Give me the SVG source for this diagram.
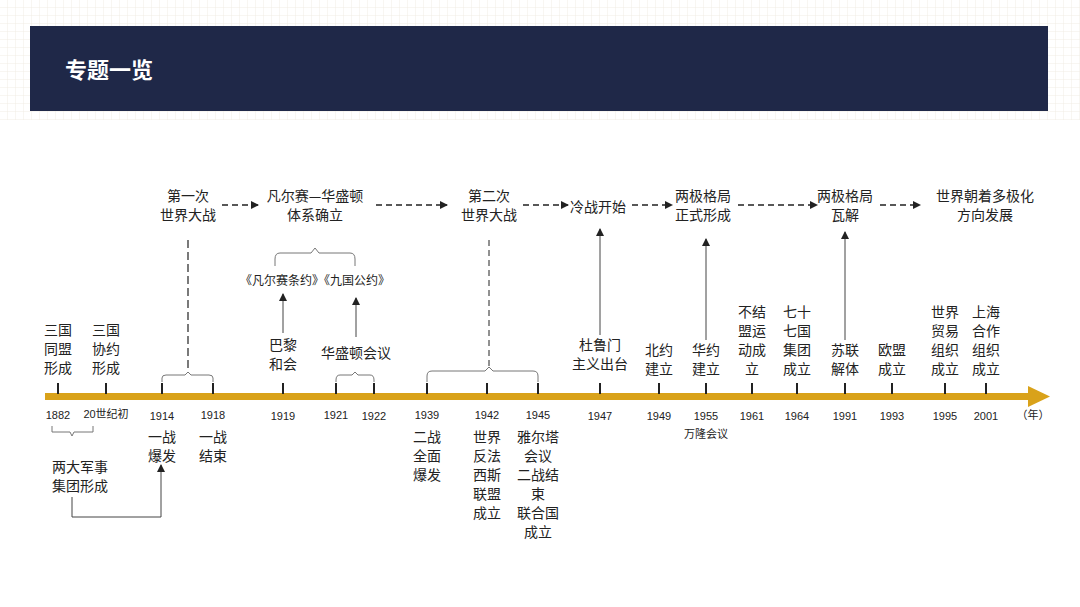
<svg xmlns="http://www.w3.org/2000/svg" width="1080" height="607" viewBox="0 0 1080 607">
<defs>
<marker id="ah" markerWidth="8" markerHeight="8" refX="7" refY="4" orient="auto" markerUnits="userSpaceOnUse"><path d="M0,0 L8,4 L0,8 z" fill="#222"/></marker>
<pattern id="grid" width="8" height="8" patternUnits="userSpaceOnUse"><path d="M8,0 V8 M0,8 H8" stroke="#f0ede4" stroke-width="1"/></pattern>
</defs>
<style>
text{font-family:"Noto Sans CJK SC","Liberation Sans",sans-serif;fill:#222;font-size:14px;text-anchor:middle}
.yr{font-size:11px;font-family:"Liberation Sans","Noto Sans CJK SC",sans-serif}
.d{stroke:#222;stroke-width:1.5;stroke-dasharray:6,4;fill:none}
.s{stroke:#444;stroke-width:1;fill:none}
.t{stroke:#222;stroke-width:2}
.b{stroke:#777;stroke-width:1;fill:none}
</style>
<rect width="1080" height="607" fill="#fff"/>
<rect width="1080" height="120" fill="url(#grid)"/>
<g id="header"><rect x="30" y="26" width="1018" height="85" fill="#1f2848"/>
<text x="65" y="78" style="fill:#fff;font-size:22px;font-weight:bold;text-anchor:start">专题一览</text></g>
<g id="axis">
<rect x="45" y="393" width="985" height="7" fill="#d9a21a"/>
<path d="M1028,386 L1050,396.5 L1028,407 z" fill="#d9a21a"/>
</g>
<g id="ticks">
<path class="t" d="M58,383V394M106,383V394M162,383V394M213,383V394M283,383V394M336,383V394M374,383V394M427,383V394M487,383V394M538,383V394M600,383V394M659,383V394M706,383V394M752,383V394M797,383V394M845,383V394M892,383V394M945,383V394M986,383V394"/>
</g>
<g id="years" class="yr">
<text class="yr" x="58" y="419">1882</text><text class="yr" x="106" y="418">20世纪初</text><text class="yr" x="162" y="420">1914</text><text class="yr" x="213" y="419">1918</text><text class="yr" x="283" y="420">1919</text><text class="yr" x="336" y="419">1921</text><text class="yr" x="374" y="420">1922</text><text class="yr" x="427" y="419">1939</text><text class="yr" x="487" y="419">1942</text><text class="yr" x="538" y="419">1945</text><text class="yr" x="600" y="420">1947</text><text class="yr" x="659" y="420">1949</text><text class="yr" x="706" y="420">1955</text><text class="yr" x="752" y="420">1961</text><text class="yr" x="797" y="420">1964</text><text class="yr" x="845" y="420">1991</text><text class="yr" x="892" y="420">1993</text><text class="yr" x="945" y="420">1995</text><text class="yr" x="986" y="420">2001</text><text class="yr" x="1033" y="419">（年）</text>
</g>
<g id="top">
<text x="188" y="201">第一次</text><text x="188" y="220">世界大战</text>
<text x="315" y="201">凡尔赛—华盛顿</text><text x="315" y="220">体系确立</text>
<text x="489" y="201">第二次</text><text x="489" y="220">世界大战</text>
<text x="598" y="212">冷战开始</text>
<text x="703" y="201">两极格局</text><text x="703" y="220">正式形成</text>
<text x="845" y="201">两极格局</text><text x="845" y="220">瓦解</text>
<text x="985" y="201">世界朝着多极化</text><text x="985" y="220">方向发展</text>
</g>
<g id="upper-labels">
<text x="315" y="285" style="font-size:12px">《凡尔赛条约》《九国公约》</text>
<text x="283" y="350">巴黎</text><text x="283" y="369">和会</text>
<text x="356" y="358">华盛顿会议</text>
<text x="58" y="335">三国</text><text x="58" y="354">同盟</text><text x="58" y="373">形成</text>
<text x="106" y="335">三国</text><text x="106" y="354">协约</text><text x="106" y="373">形成</text>
<text x="600" y="350">杜鲁门</text><text x="600" y="369">主义出台</text>
<text x="659" y="355">北约</text><text x="659" y="374">建立</text>
<text x="706" y="355">华约</text><text x="706" y="374">建立</text>
<text x="752" y="317">不结</text><text x="752" y="336">盟运</text><text x="752" y="355">动成</text><text x="752" y="374">立</text>
<text x="797" y="317">七十</text><text x="797" y="336">七国</text><text x="797" y="355">集团</text><text x="797" y="374">成立</text>
<text x="845" y="355">苏联</text><text x="845" y="374">解体</text>
<text x="892" y="355">欧盟</text><text x="892" y="374">成立</text>
<text x="945" y="317">世界</text><text x="945" y="336">贸易</text><text x="945" y="355">组织</text><text x="945" y="374">成立</text>
<text x="986" y="317">上海</text><text x="986" y="336">合作</text><text x="986" y="355">组织</text><text x="986" y="374">成立</text>
</g>
<g id="lower-labels">
<text x="706" y="438" style="font-size:11px">万隆会议</text>
<text x="80" y="472">两大军事</text><text x="80" y="491">集团形成</text>
<text x="162" y="442">一战</text><text x="162" y="461">爆发</text>
<text x="213" y="442">一战</text><text x="213" y="461">结束</text>
<text x="427" y="442">二战</text><text x="427" y="461">全面</text><text x="427" y="480">爆发</text>
<text x="487" y="442">世界</text><text x="487" y="461">反法</text><text x="487" y="480">西斯</text><text x="487" y="499">联盟</text><text x="487" y="518">成立</text>
<text x="538" y="442">雅尔塔</text><text x="538" y="461">会议</text><text x="538" y="480">二战结</text><text x="538" y="499">束</text><text x="538" y="518">联合国</text><text x="538" y="537">成立</text>
</g>
<g id="connectors">
<path class="d" marker-end="url(#ah)" d="M222,205H258"/>
<path class="d" marker-end="url(#ah)" d="M376,205H447"/>
<path class="d" marker-end="url(#ah)" d="M523,205H568"/>
<path class="d" marker-end="url(#ah)" d="M632,205H672"/>
<path class="d" marker-end="url(#ah)" d="M738,205H817"/>
<path class="d" marker-end="url(#ah)" d="M880,205H920"/>
<path class="d" d="M188,240V368" style="stroke-width:1.2;stroke-dasharray:8,4"/>
<path class="d" d="M489,240V368" style="stroke-width:1"/>
<path class="b" d="M162,382V378Q162,375 166,375H185L188,372L191,375H209Q213,375 213,378V382"/>
<path class="b" d="M427,382V376Q427,371 432,371H485L489,367L493,371H533Q538,371 538,376V382"/>
<path class="b" d="M336,382V380Q336,375 340,375H352L355,372L358,375H370Q374,375 374,380V382"/>
<path class="b" d="M275,266V259Q275,253 280,253H311L315,248L319,253H350Q355,253 355,259V266"/>
<path class="b" d="M52,426V432H70L72,436L74,432H93V426"/>
<path class="s" marker-end="url(#ah)" d="M283,333V294"/>
<path class="s" marker-end="url(#ah)" d="M356,337V298"/>
<path class="s" marker-end="url(#ah)" d="M600,335V229"/>
<path class="s" marker-end="url(#ah)" d="M706,340V239"/>
<path class="s" marker-end="url(#ah)" d="M845,340V232"/>
<path class="s" marker-end="url(#ah)" d="M72,497V517H161V465"/>
</g>
</svg>
